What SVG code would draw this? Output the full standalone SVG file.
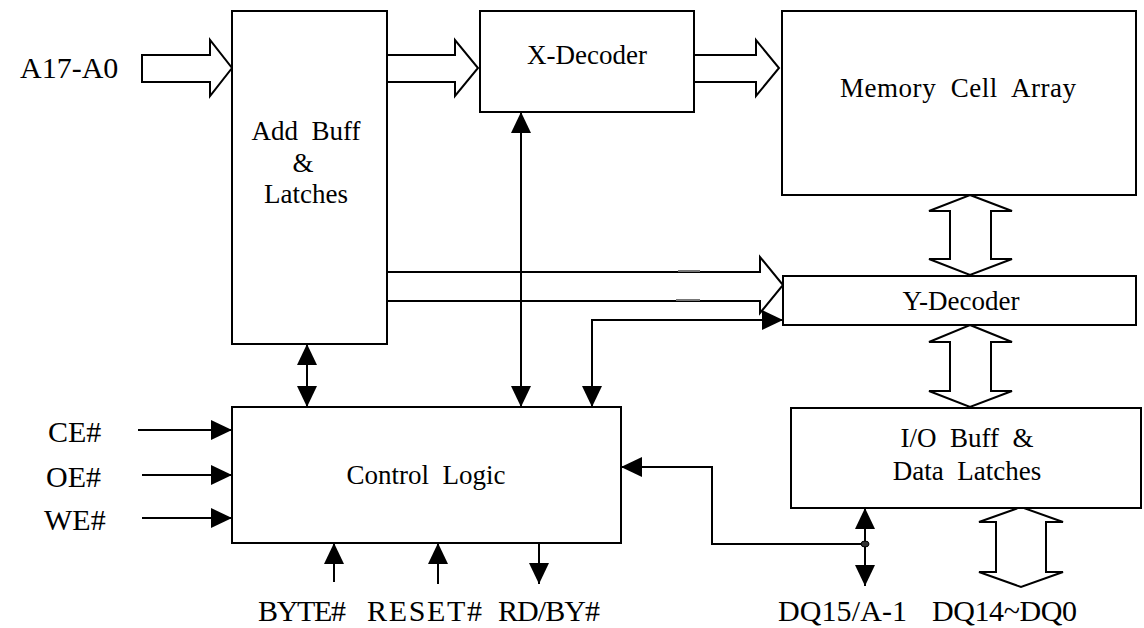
<svg xmlns="http://www.w3.org/2000/svg" width="1144" height="628" viewBox="0 0 1144 628" xml:space="preserve">
<style>
.box{fill:#fff;stroke:#000;stroke-width:2}
.fat{fill:#fff;stroke:#000;stroke-width:2;stroke-linejoin:miter}
.ln{fill:none;stroke:#000;stroke-width:2}
.t{font-family:"Liberation Serif","Times New Roman",serif;font-size:27px;fill:#000;text-anchor:middle;white-space:pre}
.L{font-family:"Liberation Serif","Times New Roman",serif;font-size:30px;fill:#000;white-space:pre}
</style>
<defs>
<marker id="ah" markerUnits="userSpaceOnUse" markerWidth="22" markerHeight="20" refX="21" refY="10" orient="auto-start-reverse" viewBox="0 0 22 20">
<path d="M0,0 L21,10 L0,20 z" fill="#000"/>
</marker>
</defs>
<rect width="1144" height="628" fill="#fff"/>

<g id="connectors">
<polygon class="fat" points="142,55 210,55 210,40 232,68 210,96 210,82 142,82"/>
<polygon class="fat" points="387,55 455,55 455,40 478,68 455,96 455,82 387,82"/>
<polygon class="fat" points="694,55 756,55 756,40 779,68 756,96 756,82 694,82"/>
<polygon class="fat" points="387,272 760,272 760,257 783,285 760,313 760,301 387,301"/>
<line x1="678" y1="271" x2="700" y2="271" stroke="#777" stroke-width="2"/>
<line x1="676" y1="300" x2="700" y2="300" stroke="#777" stroke-width="2"/>
<polygon class="fat" points="970,195 1012,211 991,211 991,259 1012,259 970,275 929,259 950,259 950,211 929,211"/>
<polygon class="fat" points="970,325 1012,342 991,342 991,391 1012,391 970,407 929,391 950,391 950,342 929,342"/>
<polygon class="fat" points="1021,507 1063,522 1046,522 1046,572 1063,572 1021,587 979,572 996,572 996,522 979,522"/>
<line class="ln" x1="138" y1="430" x2="232" y2="430" marker-end="url(#ah)"/>
<line class="ln" x1="142" y1="475" x2="232" y2="475" marker-end="url(#ah)"/>
<line class="ln" x1="142" y1="518" x2="232" y2="518" marker-end="url(#ah)"/>
<line class="ln" x1="307" y1="344" x2="307" y2="407" marker-start="url(#ah)" marker-end="url(#ah)"/>
<line class="ln" x1="521" y1="112" x2="521" y2="407" marker-start="url(#ah)" marker-end="url(#ah)"/>
<path class="ln" d="M592,407 V320 H783" marker-start="url(#ah)" marker-end="url(#ah)"/>
<line class="ln" x1="334" y1="582" x2="334" y2="543" marker-end="url(#ah)"/>
<line class="ln" x1="438" y1="584" x2="438" y2="543" marker-end="url(#ah)"/>
<line class="ln" x1="539" y1="543" x2="539" y2="584" marker-end="url(#ah)"/>
<line class="ln" x1="865" y1="508" x2="865" y2="586" marker-start="url(#ah)" marker-end="url(#ah)"/>
<path class="ln" d="M865,544 H712 V467 H621" marker-end="url(#ah)"/>
<ellipse cx="865" cy="544" rx="4" ry="3" fill="#333" stroke="#000" stroke-width="1"/>
</g>

<g id="add-buff">
<rect class="box" x="232" y="11" width="155" height="333"/>
<text class="t" x="306" y="140">Add  Buff</text>
<text class="t" x="303" y="172">&amp;</text>
<text class="t" x="306" y="203">Latches</text>
</g>
<g id="x-decoder">
<rect class="box" x="480" y="11" width="214" height="101"/>
<text class="t" x="587" y="64">X-Decoder</text>
</g>
<g id="memory">
<rect class="box" x="782" y="11" width="354" height="184"/>
<text class="t" x="958" y="97" textLength="236">Memory  Cell  Array</text>
</g>
<g id="y-decoder">
<rect class="box" x="783" y="276" width="353" height="49"/>
<text class="t" x="961" y="310">Y-Decoder</text>
</g>
<g id="io-buff">
<rect class="box" x="791" y="408" width="350" height="100"/>
<text class="t" x="967" y="447">I/O  Buff  &amp;</text>
<text class="t" x="967" y="480">Data  Latches</text>
</g>
<g id="control-logic">
<rect class="box" x="232" y="407" width="389" height="136"/>
<text class="t" x="426" y="484">Control  Logic</text>
</g>

<g id="labels">
<text class="L" x="20" y="78">A17-A0</text>
<text class="L" x="48" y="442">CE#</text>
<text class="L" x="46" y="487">OE#</text>
<text class="L" x="44" y="530">WE#</text>
<text class="L" x="258" y="621" textLength="88">BYTE#</text>
<text class="L" x="367" y="621" textLength="115">RESET#</text>
<text class="L" x="498" y="621" textLength="102">RD/BY#</text>
<text class="L" x="778" y="621" textLength="129">DQ15/A-1</text>
<text class="L" x="932" y="621" textLength="145">DQ14~DQ0</text>
</g>
</svg>
